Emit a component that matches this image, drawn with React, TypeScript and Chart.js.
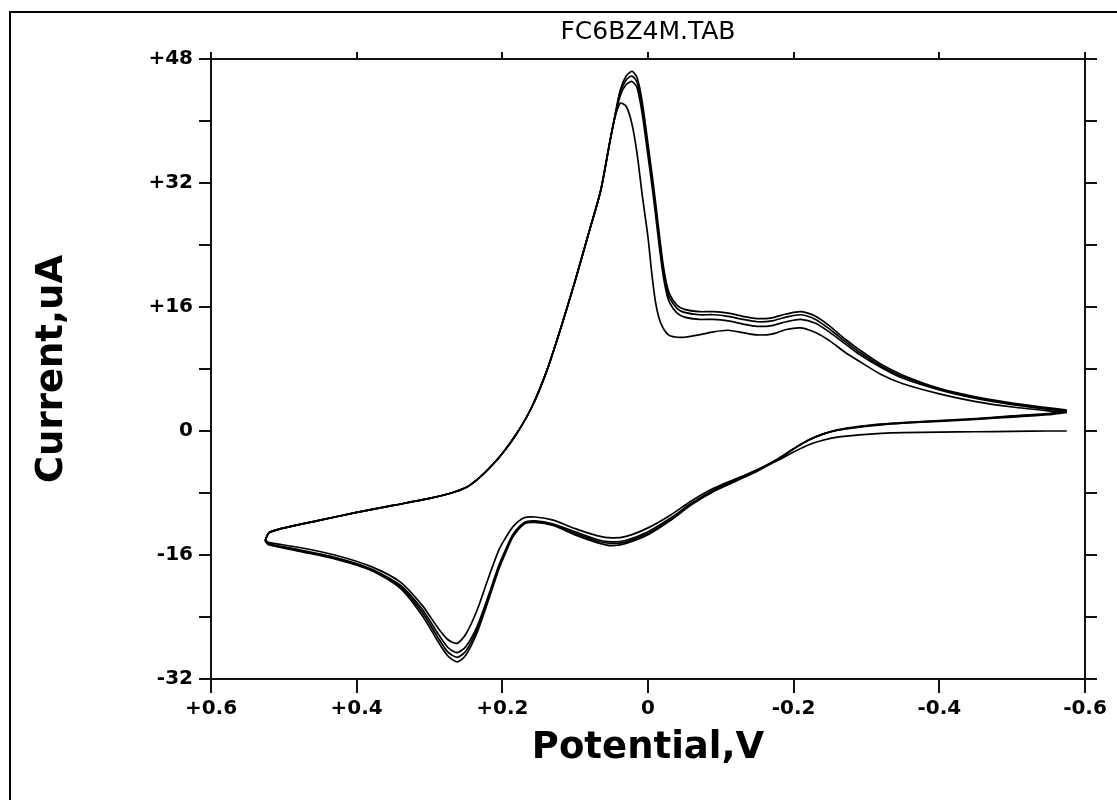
import React, { useEffect, useRef } from 'react';
import { Chart, registerables } from 'chart.js';

Chart.register(...registerables);

// ---------- text ----------
const chartTitle = 'FC6BZ4M.TAB';
const xAxisTitle = 'Potential,V';
const yAxisTitle = 'Current,uA';

// ---------- ticks ----------
const xTickValues = [0.6, 0.4, 0.2, 0, -0.2, -0.4, -0.6];
const yTickValues = [-32, -24, -16, -8, 0, 8, 16, 24, 32, 40, 48];
const yLabelledTicks = [-32, -16, 0, 16, 32, 48];

// ---------- potentials (V) ----------
// lower branch: scanned from -0.575 V toward +0.525 V
const lowerE = [
  -0.575, -0.55, -0.5, -0.45, -0.4, -0.35, -0.32, -0.29, -0.26, -0.24, -0.22, -0.2, -0.18, -0.15,
  -0.12, -0.09, -0.06, -0.03, 0.0, 0.03, 0.05, 0.07, 0.1, 0.13, 0.155, 0.17, 0.185, 0.195, 0.205,
  0.22, 0.235, 0.25, 0.262, 0.275, 0.29, 0.31, 0.34, 0.38, 0.43, 0.48, 0.52, 0.525,
];
// upper branch: scanned back from +0.525 V toward -0.575 V
const upperE = [
  0.525, 0.52, 0.49, 0.45, 0.4, 0.35, 0.3, 0.27, 0.25, 0.235, 0.22, 0.2, 0.18, 0.16, 0.14, 0.12,
  0.1, 0.08, 0.065, 0.052, 0.045, 0.038, 0.03, 0.022, 0.015, 0.008, 0.0, -0.005, -0.01, -0.015,
  -0.02, -0.025, -0.03, -0.04, -0.05, -0.07, -0.09, -0.11, -0.13, -0.15, -0.17, -0.19, -0.21,
  -0.23, -0.25, -0.27, -0.29, -0.32, -0.35, -0.4, -0.45, -0.5, -0.55, -0.575,
];

// ---------- currents (uA), cycle by cycle ----------
const lower1 = [
  0.0, 0.0, -0.05, -0.1, -0.15, -0.2, -0.3, -0.5, -0.8, -1.2, -1.8, -2.7, -3.7, -5.0,
  -6.2, -7.4, -9.0, -10.9, -12.5, -13.6, -13.8, -13.5, -12.6, -11.5, -11.1, -11.2, -12.3, -13.7, -15.4,
  -19.2, -23.2, -26.2, -27.4, -26.9, -25.2, -22.5, -19.5, -17.5, -16.0, -15.0, -14.4, -14.1,
];
const upper1 = [
  -14.0, -13.1, -12.3, -11.5, -10.5, -9.6, -8.7, -8.0, -7.3, -6.3, -5.0, -2.9, -0.3, 3.0, 7.5, 13.2,
  19.4, 26.0, 31.0, 37.5, 40.6, 42.3, 41.9, 39.6, 35.8, 30.5, 25.0, 20.5, 16.8, 14.6,
  13.4, 12.7, 12.3, 12.1, 12.1, 12.4, 12.8, 13.0, 12.7, 12.4, 12.5, 13.1, 13.3,
  12.7, 11.6, 10.2, 9.0, 7.3, 6.1, 4.8, 3.8, 3.1, 2.6, 2.4,
];
const lower2 = [
  2.4, 2.1, 1.8, 1.5, 1.25, 1.0, 0.8, 0.5, 0.1, -0.4, -1.2, -2.3, -3.5, -5.0,
  -6.3, -7.6, -9.3, -11.3, -13.0, -14.1, -14.3, -14.0, -13.0, -12.0, -11.6, -11.8, -13.3, -15.2, -17.4,
  -21.5, -25.3, -27.8, -28.6, -27.9, -25.9, -23.0, -19.9, -17.8, -16.3, -15.3, -14.6, -14.2,
];
const upper2 = [
  -14.0, -13.1, -12.3, -11.5, -10.5, -9.6, -8.7, -8.0, -7.3, -6.3, -5.0, -2.9, -0.3, 3.0, 7.5, 13.2,
  19.4, 26.0, 31.0, 37.5, 40.7, 43.3, 44.7, 45.1, 44.3, 41.0, 35.5, 32.0, 28.2, 24.2,
  20.6, 18.0, 16.5, 15.2, 14.7, 14.4, 14.4, 14.2, 13.8, 13.5, 13.6, 14.1, 14.4,
  13.9, 12.7, 11.3, 9.9, 8.2, 6.8, 5.3, 4.2, 3.4, 2.8, 2.6,
];
const lower3 = [
  2.6, 2.2, 1.9, 1.55, 1.3, 1.05, 0.85, 0.55, 0.1, -0.4, -1.2, -2.3, -3.5, -5.1,
  -6.4, -7.7, -9.4, -11.5, -13.2, -14.3, -14.5, -14.2, -13.2, -12.1, -11.7, -11.9, -13.4, -15.4, -17.6,
  -21.8, -25.7, -28.4, -29.2, -28.5, -26.4, -23.4, -20.1, -17.9, -16.4, -15.4, -14.6, -14.2,
];
const upper3 = [
  -14.0, -13.1, -12.3, -11.5, -10.5, -9.6, -8.7, -8.0, -7.3, -6.3, -5.0, -2.9, -0.3, 3.0, 7.5, 13.2,
  19.4, 26.0, 31.0, 37.5, 40.8, 43.7, 45.3, 45.8, 45.0, 41.8, 36.3, 32.8, 29.0, 25.0,
  21.3, 18.6, 17.1, 15.8, 15.3, 15.0, 15.0, 14.8, 14.4, 14.1, 14.2, 14.7, 15.0,
  14.4, 13.1, 11.6, 10.2, 8.4, 7.0, 5.4, 4.3, 3.5, 2.9, 2.6,
];
const lower4 = [
  2.6, 2.25, 1.95, 1.6, 1.35, 1.1, 0.9, 0.6, 0.15, -0.4, -1.2, -2.3, -3.6, -5.2,
  -6.5, -7.8, -9.5, -11.6, -13.4, -14.5, -14.8, -14.4, -13.4, -12.2, -11.8, -12.0, -13.6, -15.6, -17.9,
  -22.1, -26.1, -28.9, -29.8, -29.0, -26.9, -23.8, -20.3, -18.0, -16.5, -15.5, -14.7, -14.3,
];
const upper4 = [
  -14.0, -13.1, -12.3, -11.5, -10.5, -9.6, -8.7, -8.0, -7.3, -6.3, -5.0, -2.9, -0.3, 3.0, 7.5, 13.2,
  19.4, 26.0, 31.0, 37.5, 40.9, 44.0, 45.8, 46.4, 45.6, 42.5, 37.0, 33.5, 29.8, 25.8,
  22.0, 19.2, 17.6, 16.2, 15.7, 15.4, 15.4, 15.2, 14.8, 14.5, 14.6, 15.1, 15.4,
  14.8, 13.5, 11.9, 10.5, 8.6, 7.2, 5.5, 4.4, 3.6, 3.0, 2.7,
];

const cycles = [
  { lower: lower1, upper: upper1 },
  { lower: lower2, upper: upper2 },
  { lower: lower3, upper: upper3 },
  { lower: lower4, upper: upper4 },
];

const INK = '#111';
const FONT = 'DejaVu Sans';

function fmtSigned(v: number, digits: number): string {
  if (Math.abs(v) < 1e-9) return '0';
  const s = v.toFixed(digits);
  return v > 0 ? '+' + s : s;
}

const framePlugin = {
  id: 'outerFrame',
  afterDraw(chart: any) {
    const ctx = chart.ctx;
    ctx.save();
    ctx.strokeStyle = '#000';
    ctx.lineWidth = 2;
    ctx.beginPath();
    ctx.moveTo(10, 800);
    ctx.lineTo(10, 12);
    ctx.lineTo(1117, 12);
    ctx.stroke();
    ctx.restore();
  },
};

export default function App() {
  const ref = useRef<HTMLCanvasElement | null>(null);

  useEffect(() => {
    if (!ref.current) return;
    const datasets = cycles.map((c) => ({
      data: [
        ...lowerE.map((e, i) => ({ x: e, y: c.lower[i] })),
        ...upperE.map((e, i) => ({ x: e, y: c.upper[i] })),
      ],
      borderColor: '#000',
      borderWidth: 1.7,
      pointRadius: 0,
      tension: 0.25,
      fill: false,
    }));

    const gridCommon = {
      display: true,
      drawOnChartArea: false,
      drawTicks: true,
      color: INK,
      lineWidth: 2,
    };
    const borderCommon = { display: true, color: INK, width: 2 };
    const setXTicks = (axis: any) => {
      axis.ticks = xTickValues.map((v) => ({ value: v }));
    };
    const setYTicks = (axis: any) => {
      axis.ticks = yTickValues.map((v) => ({ value: v }));
    };

    const chart = new Chart(ref.current, {
      type: 'line',
      data: { datasets },
      plugins: [framePlugin],
      options: {
        responsive: false,
        animation: false,
        devicePixelRatio: 1,
        events: [],
        layout: { padding: 0 },
        plugins: { legend: { display: false }, tooltip: { enabled: false } },
        scales: {
          x: {
            type: 'linear',
            position: 'bottom',
            reverse: true,
            min: -0.6,
            max: 0.6,
            afterBuildTicks: setXTicks,
            afterFit: (s: any) => { s.height = 121; },
            ticks: {
              autoSkip: false,
              maxRotation: 0,
              minRotation: 0,
              padding: 4,
              color: '#000',
              font: { family: FONT, size: 20, weight: 'bold' },
              callback: (v: any) => fmtSigned(Number(v), 1),
            },
            grid: { ...gridCommon, tickLength: 14 },
            border: borderCommon,
            title: {
              display: true,
              text: xAxisTitle,
              color: '#000',
              font: { family: FONT, size: 37, weight: 'bold' },
              padding: { top: 0, bottom: 29 },
            },
          },
          x2: {
            type: 'linear',
            axis: 'x',
            position: 'top',
            reverse: true,
            min: -0.6,
            max: 0.6,
            afterBuildTicks: setXTicks,
            afterFit: (s: any) => { s.height = 59; },
            ticks: { display: false, autoSkip: false },
            grid: { ...gridCommon, tickLength: 7 },
            border: borderCommon,
            title: {
              display: true,
              text: chartTitle,
              color: '#000',
              font: { family: FONT, size: 25 },
              padding: { top: 17, bottom: 0 },
            },
          },
          y: {
            type: 'linear',
            position: 'left',
            min: -32,
            max: 48,
            afterBuildTicks: setYTicks,
            afterFit: (s: any) => { s.width = 211; },
            ticks: {
              autoSkip: false,
              padding: 6,
              color: '#000',
              font: { family: FONT, size: 20, weight: 'bold' },
              callback: (v: any) => (yLabelledTicks.includes(Number(v)) ? fmtSigned(Number(v), 0) : ''),
            },
            grid: { ...gridCommon, tickLength: 12 },
            border: borderCommon,
            title: {
              display: true,
              text: yAxisTitle,
              color: '#000',
              font: { family: FONT, size: 37, weight: 'bold' },
              padding: { top: 30, bottom: 0 },
            },
          },
          y2: {
            type: 'linear',
            axis: 'y',
            position: 'right',
            min: -32,
            max: 48,
            afterBuildTicks: setYTicks,
            afterFit: (s: any) => { s.width = 32; },
            ticks: { display: false, autoSkip: false },
            grid: { ...gridCommon, tickLength: 12 },
            border: borderCommon,
          },
        },
      } as any,
    });
    return () => chart.destroy();
  }, []);

  return (
    <div style={{ position: 'absolute', left: 0, top: 0, width: 1117, height: 800, background: '#fff' }}>
      <canvas ref={ref} width={1117} height={800} style={{ display: 'block' }} />
    </div>
  );
}
